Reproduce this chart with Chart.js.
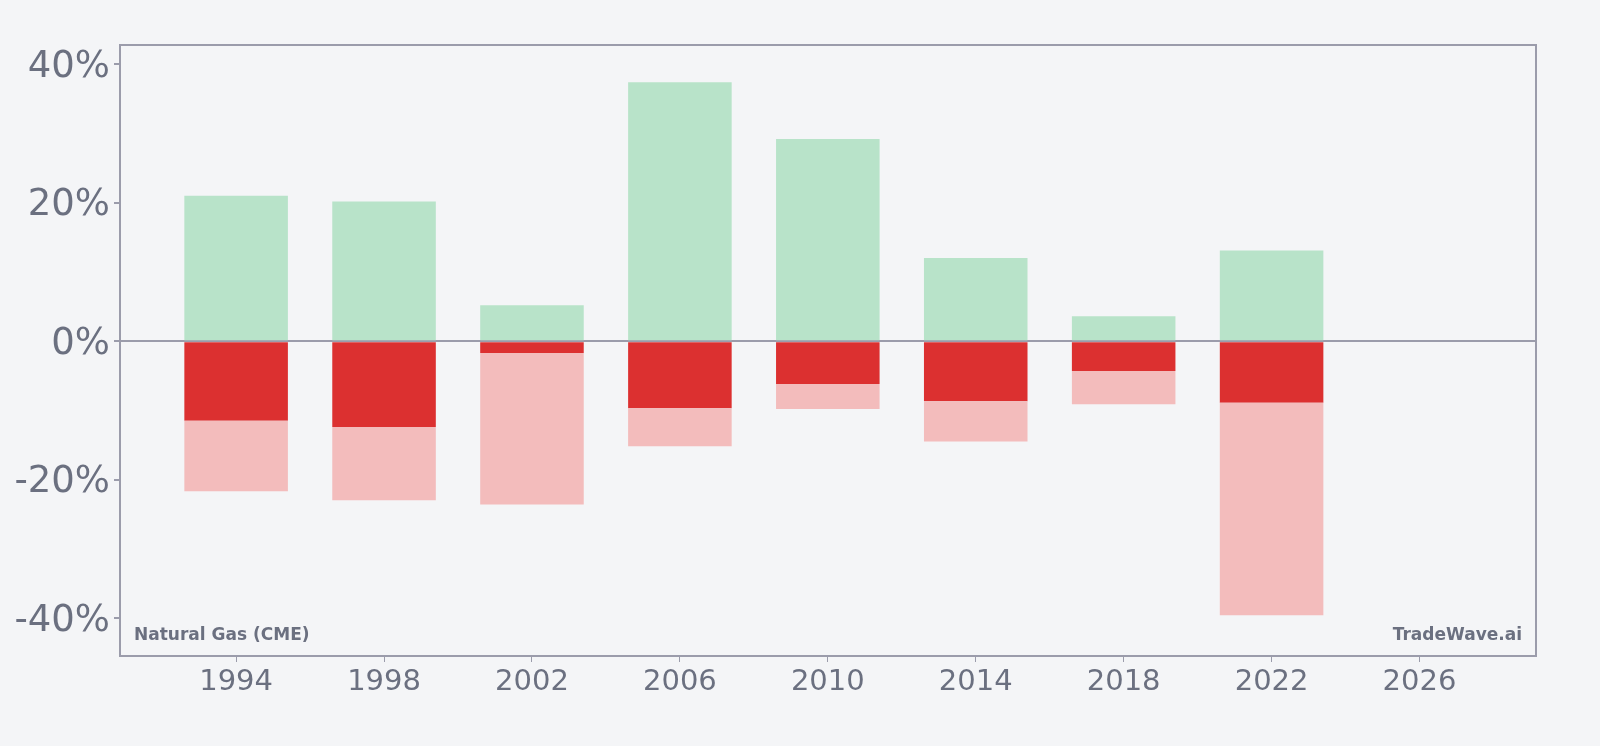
<!DOCTYPE html>
<html>
<head>
<meta charset="utf-8">
<script src="https://cdn.jsdelivr.net/npm/chart.js@4"></script>
<style>
  html, body { margin: 0; padding: 0; background: #f4f5f7; }
  #wrap { width: 1600px; height: 746px; }
</style>
</head>
<body>
<div id="wrap"><canvas id="chart"></canvas></div>
<script>
// periods (bar centres, years) and their returns in %
const years = [1994, 1998, 2002, 2006, 2010, 2014, 2018, 2022];
const upside = [21.0, 20.2, 5.2, 37.4, 29.2, 12.0, 3.6, 13.1];
const drawdown = [-11.5, -12.4, -1.7, -9.7, -6.2, -8.7, -4.3, -8.9];
const worstDrop = [-21.7, -23.0, -23.6, -15.2, -9.8, -14.5, -9.1, -39.6];
const xTicks = [1994, 1998, 2002, 2006, 2010, 2014, 2018, 2022, 2026];
const yTicks = [-40, -20, 0, 20, 40];

const gray = '#6b7080';
const axisColor = '#9b9cab';

const frame = {
    id: 'frame',
    afterDraw(chart) {
        const c = chart.ctx, a = chart.chartArea;
        c.save();
        c.strokeStyle = axisColor;
        c.lineWidth = 2;
        c.strokeRect(a.left, a.top, a.right - a.left, a.bottom - a.top);
        c.fillStyle = gray;
        c.font = 'bold 17px "DejaVu Sans"';
        c.textBaseline = 'alphabetic';
        c.textAlign = 'left';
        c.fillText('Natural Gas (CME)', a.left + 14, a.bottom - 16);
        c.textAlign = 'right';
        c.fillText('TradeWave.ai', a.right - 14, a.bottom - 16);
        c.restore();
    }
};

const ctx = document.getElementById('chart');
new Chart(ctx, {
    type: 'bar',
    data: {
        datasets: [{
            label: 'Upside',
            data: years.map((y, i) => ({ x: y, y: [0, upside[i]] })),
            backgroundColor: '#b8e3c9'
        }, {
            label: 'Worst drop',
            data: years.map((y, i) => ({ x: y, y: [drawdown[i], worstDrop[i]] })),
            backgroundColor: '#f3bcbc'
        }, {
            label: 'Drawdown',
            data: years.map((y, i) => ({ x: y, y: [0, drawdown[i]] })),
            backgroundColor: '#dc3030'
        }]
    },
    options: {
        responsive: true,
        maintainAspectRatio: false,
        animation: false,
        grouped: false,
        barPercentage: 0.7,
        categoryPercentage: 1.0,
        borderWidth: 0,
        inflateAmount: 0,
        layout: { padding: { top: 45, right: 64, left: 0, bottom: 0 } },
        plugins: {
            legend: { display: false },
            tooltip: { enabled: false }
        },
        scales: {
            x: {
                type: 'linear',
                offset: false,
                min: 1990.86,
                max: 2029.15,
                afterBuildTicks: s => { s.ticks = xTicks.map(v => ({ value: v })); },
                afterFit: s => { s.height = 90; },
                border: { display: false },
                grid: {
                    offset: false,
                    drawOnChartArea: false,
                    tickColor: axisColor,
                    tickLength: 6
                },
                ticks: {
                    color: gray,
                    padding: 3,
                    font: { family: 'DejaVu Sans', size: 29 },
                    callback: v => String(v)
                }
            },
            y: {
                min: -45.5,
                max: 42.8,
                afterBuildTicks: s => { s.ticks = yTicks.map(v => ({ value: v })); },
                afterFit: s => { s.width = 120; },
                border: { display: false },
                grid: {
                    color: c => c.tick && c.tick.value === 0 ? axisColor : 'rgba(0,0,0,0)',
                    lineWidth: 2,
                    tickColor: axisColor,
                    tickLength: 6
                },
                ticks: {
                    color: gray,
                    padding: 4,
                    labelOffset: 3,
                    font: { family: 'DejaVu Sans', size: 37 },
                    callback: v => v + '%'
                }
            }
        }
    },
    plugins: [frame]
});
</script>
</body>
</html>
